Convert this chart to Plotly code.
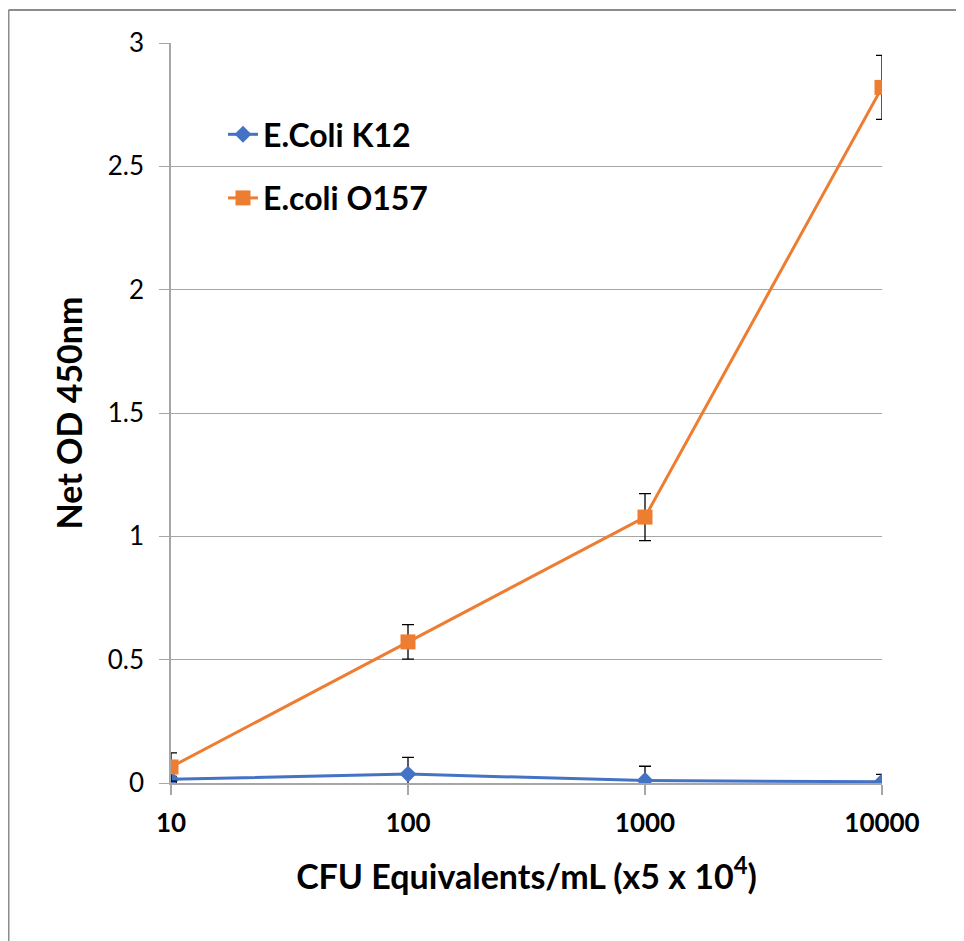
import plotly.graph_objects as go

x_vals = [10, 100, 1000, 10000]
x_tick_labels = ["10", "100", "1000", "10000"]

k12_name = "E.Coli K12"
k12_vals = [0.015, 0.036, 0.010, 0.005]
k12_err = [0.012, 0.068, 0.058, 0.030]

o157_name = "E.coli O157"
o157_vals = [0.065, 0.572, 1.078, 2.82]
o157_err = [0.057, 0.070, 0.095, 0.130]

y_ticks = [0, 0.5, 1, 1.5, 2, 2.5, 3]
y_tick_labels = ["0", "0.5", "1", "1.5", "2", "2.5", "3"]

FONT = "Lato"
BLUE = "#4472C4"
ORANGE = "#ED7D31"

fig = go.Figure()
fig.add_trace(go.Scatter(
    x=x_vals, y=k12_vals, name=k12_name, mode="lines+markers",
    line=dict(color=BLUE, width=3),
    marker=dict(symbol="diamond", size=13, color=BLUE),
    error_y=dict(type="data", array=k12_err, color="black", thickness=1.3, width=6),
    legendgroup="a",
))
fig.add_trace(go.Scatter(
    x=x_vals, y=o157_vals, name=o157_name, mode="lines+markers",
    line=dict(color=ORANGE, width=3),
    marker=dict(symbol="square", size=15, color=ORANGE),
    error_y=dict(type="data", array=o157_err, color="black", thickness=1.3, width=6),
    legendgroup="b",
))

W, H = 964, 941
OFF = 8  # page body offset
ml, mt = 171 - OFF, 43 - OFF
pw, ph = 711, 740
mr = W - ml - pw
mb = H - mt - ph

def px_to_paper_x(px):
    return (px - ml) / pw

def px_to_paper_y(py):
    return (mt + ph - py) / ph

fig.update_layout(
    width=W, height=H,
    margin=dict(l=ml, r=mr, t=mt, b=mb),
    paper_bgcolor="white", plot_bgcolor="white",
    font=dict(family=FONT, color="black"),
    showlegend=True,
    legend=dict(
        x=px_to_paper_x(215), y=px_to_paper_y(99), xanchor="left", yanchor="top",
        bgcolor="rgba(0,0,0,0)", font=dict(size=32, family=FONT, weight="bold"),
        tracegroupgap=19, traceorder="grouped",
    ),
    xaxis=dict(
        type="log", range=[1, 4],
        tickvals=x_vals, ticktext=x_tick_labels,
        showgrid=False, zeroline=False,
        showline=True, linecolor="#A6A6A6", linewidth=1.5,
        ticks="outside", ticklen=10, tickcolor="#A6A6A6", tickwidth=1.5,
        tickfont=dict(size=26, family=FONT, weight="bold"),
        ticklabelstandoff=6,
        title=dict(text="CFU Equivalents/mL (x5 x 10<sup>4</sup>)",
                   font=dict(size=34, family=FONT, weight="bold"), standoff=28),
    ),
    yaxis=dict(
        range=[0, 3], tickvals=y_ticks, ticktext=y_tick_labels,
        showgrid=True, gridcolor="#A6A6A6", gridwidth=1.2,
        zeroline=False,
        showline=True, linecolor="#A6A6A6", linewidth=1.5,
        ticks="outside", ticklen=10, tickcolor="#A6A6A6", tickwidth=1.2,
        tickfont=dict(size=26, family=FONT),
        ticklabelstandoff=10,
        title=dict(text="Net OD 450nm", font=dict(size=34, family=FONT, weight="bold"), standoff=15),
    ),
)

# outer chart border (left and top edges visible)
fig.add_shape(type="line", xref="paper", yref="paper",
              x0=px_to_paper_x(0.5), x1=px_to_paper_x(0.5), y0=px_to_paper_y(2), y1=px_to_paper_y(960),
              line=dict(color="#8C8C8C", width=2))
fig.add_shape(type="line", xref="paper", yref="paper",
              x0=px_to_paper_x(0.5), x1=px_to_paper_x(980), y0=px_to_paper_y(2), y1=px_to_paper_y(2),
              line=dict(color="#8C8C8C", width=2))

fig.write_html("out.html")
